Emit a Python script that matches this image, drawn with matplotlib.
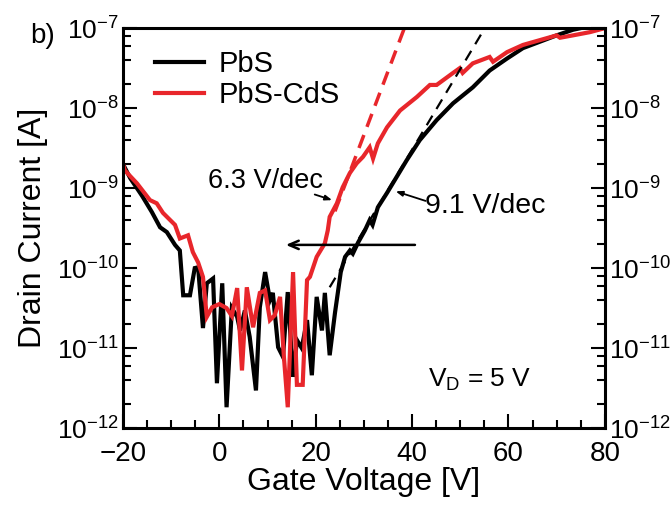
import numpy as np
import matplotlib.pyplot as plt
from matplotlib.ticker import LogLocator, MultipleLocator, NullFormatter

plt.rcParams['font.family'] = ['Liberation Sans', 'DejaVu Sans']
plt.rcParams['mathtext.fontset'] = 'custom'
plt.rcParams['mathtext.rm'] = 'Liberation Sans'
plt.rcParams['mathtext.default'] = 'regular'

# gate voltage [V] and log10(drain current [A])
pbs_vg = [-20, -18.5, -16, -14, -12.3, -10.9, -9.2, -8.2, -7.5, -6.1, -5.1, -4.4,
          -3.4, -2.6, -1.3, -0.5, 0.6, 1.5, 2.6, 3.7, 4.3, 5.3, 6.3, 7.6, 8.4, 9.5,
          10.5, 11.1, 12.2, 13.2, 14.2, 15.3, 16.1, 17.1, 18.2, 19.2, 20.2, 21.3,
          21.9, 22.9, 24.0, 25.2, 26.1, 27.1, 27.7, 28.8, 30.2, 31.2, 31.8, 32.9,
          34.8, 36.0, 38.9, 41.6, 45.1, 48.5, 52.6, 56.1, 59.7, 63.0, 66.5, 70.0,
          73.4, 76.5, 80]
pbs_log_id = [-8.70, -8.875, -9.10, -9.30, -9.49, -9.55, -9.71, -9.78, -10.34, -10.34,
              -10.00, -9.99, -10.75, -10.19, -10.13, -11.44, -10.19, -11.74, -10.50,
              -10.61, -10.78, -10.53, -10.86, -11.53, -10.49, -10.05, -10.40, -10.31,
              -10.99, -11.11, -10.30, -11.36, -10.90, -11.00, -10.65, -11.34, -10.36,
              -10.78, -10.31, -11.09, -10.56, -10.05, -9.86, -9.78, -9.82, -9.68,
              -9.53, -9.40, -9.46, -9.24, -9.06, -8.94, -8.65, -8.40, -8.15, -7.94,
              -7.74, -7.53, -7.38, -7.25, -7.17, -7.09, -7.02, -6.98, -6.96]

cds_vg = [-20, -19.6, -17.1, -14.4, -13.0, -11.7, -10.2, -9.2, -8.2, -6.5, -5.5, -4.4,
          -3.4, -2.6, -1.5, 0.0, 1.5, 2.6, 3.7, 4.7, 5.7, 7.0, 8.4, 9.5, 10.5, 11.5,
          12.6, 13.4, 14.2, 15.3, 16.1, 17.3, 18.2, 18.8, 20.2, 21.3, 21.9, 22.5,
          22.9, 24.4, 25.6, 27.1, 28.5, 29.8, 31.2, 31.9, 32.9, 34.8, 37.5, 41.0,
          43.7, 45.1, 48.5, 49.9, 50.5, 52.6, 56.1, 56.8, 59.7, 63.0, 66.5, 70.0,
          70.7, 73.4, 76.9, 80]
cds_log_id = [-8.70, -8.78, -8.94, -9.15, -9.19, -9.31, -9.40, -9.46, -9.63, -9.59,
              -9.80, -9.93, -10.11, -10.61, -10.49, -10.45, -10.50, -10.60, -10.25,
              -11.28, -10.24, -10.74, -10.31, -10.28, -10.65, -10.59, -10.36, -11.11,
              -11.74, -10.05, -11.46, -11.46, -10.15, -10.11, -9.86, -9.75, -9.69,
              -9.53, -9.36, -9.19, -8.99, -8.81, -8.69, -8.61, -8.49, -8.63, -8.44,
              -8.24, -8.03, -7.86, -7.71, -7.71, -7.56, -7.50, -7.56, -7.44, -7.36,
              -7.42, -7.30, -7.21, -7.15, -7.09, -7.12, -7.09, -7.05, -7.00]

# subthreshold slope guide lines (endpoints)
cds_fit_vg = [24.0, 38.4]
cds_fit_log = [-9.29, -7.0]
pbs_fit_vg = [22.9, 54.5]
pbs_fit_log = [-10.24, -7.06]

# hysteresis sweep arrow
sweep_vg = [40.6, 13.8]
sweep_log = [-9.71, -9.71]

fig = plt.figure(figsize=(6.72, 5.12), dpi=100)
ax = fig.add_axes([0.183, 0.164, 0.717, 0.781])

ax.plot(pbs_vg, 10 ** np.array(pbs_log_id), color='black', lw=3.0, label='PbS',
        solid_joinstyle='miter')
ax.plot(cds_vg, 10 ** np.array(cds_log_id), color='#e8262b', lw=3.0, label='PbS-CdS',
        solid_joinstyle='miter')
ax.plot(cds_fit_vg, 10 ** np.array(cds_fit_log), color='#e8262b', lw=2.5,
        dashes=(4, 2.5))
ax.plot(pbs_fit_vg, 10 ** np.array(pbs_fit_log), color='black', lw=1.6,
        dashes=(5, 3.5))

ax.annotate('', xy=(sweep_vg[1], 10 ** sweep_log[1]),
            xytext=(sweep_vg[0], 10 ** sweep_log[0]),
            arrowprops=dict(arrowstyle='->,head_length=0.7,head_width=0.3',
                            lw=1.8, color='black', shrinkA=0, shrinkB=0))

ax.annotate('', xy=(23.4, 10 ** -9.15), xytext=(19.8, 10 ** -9.08),
            arrowprops=dict(arrowstyle='-|>,head_length=0.4,head_width=0.15',
                            lw=1.3, color='black', shrinkA=0, shrinkB=0))
ax.text(9.6, 10 ** -8.91, '6.3 V/dec', fontsize=19.5, ha='center', va='center')
ax.annotate('', xy=(36.6, 10 ** -9.04), xytext=(42.8, 10 ** -9.16),
            arrowprops=dict(arrowstyle='-|>,head_length=0.4,head_width=0.15',
                            lw=1.3, color='black', shrinkA=0, shrinkB=0))
ax.text(55.1, 10 ** -9.22, '9.1 V/dec', fontsize=20.5, ha='center', va='center')

ax.text(54.1, 10 ** -11.4, r'V$_D$ = 5 V', fontsize=19, ha='center', va='center')
fig.text(0.045, 0.93, 'b)', fontsize=20, ha='left', va='center')

ax.set_yscale('log')
ax.set_xlim(-20, 80)
ax.set_ylim(1e-12, 1e-7)
ax.xaxis.set_major_locator(MultipleLocator(20))
ax.xaxis.set_minor_locator(MultipleLocator(5))
ax.yaxis.set_major_locator(LogLocator(base=10, numticks=10))
ax.yaxis.set_minor_locator(LogLocator(base=10, subs=[2, 4, 6, 8], numticks=10))
ax.yaxis.set_minor_formatter(NullFormatter())

ax.tick_params(which='both', direction='in', top=False, right=True,
               labelright=True, width=1.5)
ax.tick_params(axis='y', labelsize=19, pad=3)
ax.tick_params(axis='x', labelsize=20, pad=9)
ax.tick_params(which='major', length=10)
ax.tick_params(which='minor', length=5.5)
for s in ax.spines.values():
    s.set_linewidth(2.2)

ax.set_xlabel('Gate Voltage [V]', fontsize=23, labelpad=0)
ax.set_ylabel('Drain Current [A]', fontsize=23, labelpad=6)

ax.legend(loc='upper left', bbox_to_anchor=(0.042, 0.975), frameon=False, fontsize=21,
          handlelength=1.7, handletextpad=0.5, labelspacing=0.1, borderaxespad=0.0)

fig.savefig('out.png', dpi=100)
